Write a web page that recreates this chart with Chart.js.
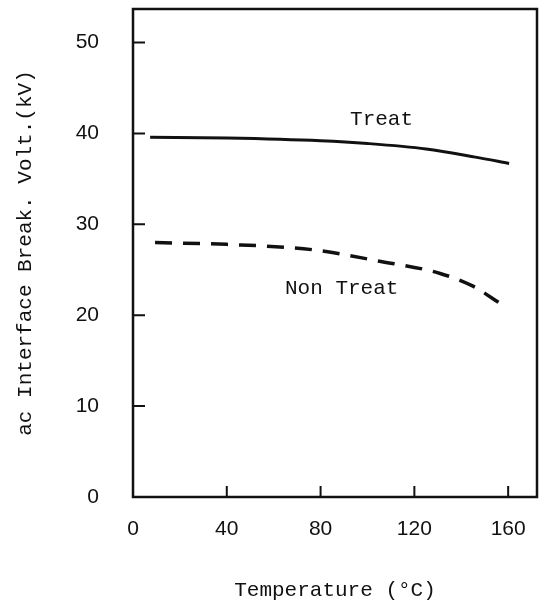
<!DOCTYPE html>
<html>
<head>
<meta charset="utf-8">
<script src="https://cdn.jsdelivr.net/npm/chart.js@4.4.1/dist/chart.umd.min.js"></script>
<style>
  html, body { margin: 0; padding: 0; background: #fff; }
  canvas { display: block; }
</style>
</head>
<body>
<canvas id="chart" width="546" height="604"></canvas>
<script>
// temperature (°C) / breakdown voltage (kV)
const treatTemp = [7.3, 40, 80, 100, 125, 146, 160.4];
const treatVolt = [39.6, 39.5, 39.2, 38.9, 38.3, 37.4, 36.7];
const nonTreatTemp = [9.4, 40, 77, 104, 131, 145, 156.6];
const nonTreatVolt = [28.0, 27.8, 27.2, 26.0, 24.6, 23.2, 21.3];

const xTicks = [0, 40, 80, 120, 160];
const yTicks = [0, 10, 20, 30, 40, 50];

const ink = '#111';
const monoFont = '"Liberation Mono", "DejaVu Sans Mono", monospace';
const sansFont = '"Liberation Sans", "DejaVu Sans", sans-serif';

// box around the plot + inward tick marks + curve labels
const framePlugin = {
  id: 'frame',
  afterDraw(chart) {
    const { ctx, chartArea: a, scales } = chart;
    ctx.save();
    ctx.strokeStyle = ink;
    ctx.lineWidth = 2.5;
    ctx.strokeRect(a.left, a.top, a.right - a.left, a.bottom - a.top);

    ctx.lineWidth = 2;
    ctx.beginPath();
    yTicks.filter(v => v > 0).forEach(v => {
      const y = scales.y.getPixelForValue(v);
      ctx.moveTo(a.left, y);
      ctx.lineTo(a.left + 12, y);
    });
    xTicks.filter(v => v > 0).forEach(v => {
      const x = scales.x.getPixelForValue(v);
      ctx.moveTo(x, a.bottom);
      ctx.lineTo(x, a.bottom - 11);
    });
    ctx.stroke();

    ctx.fillStyle = ink;
    ctx.font = '21px ' + monoFont;
    ctx.textAlign = 'center';
    ctx.textBaseline = 'middle';
    ctx.fillText('Treat', scales.x.getPixelForValue(106), scales.y.getPixelForValue(41.5));
    ctx.fillText('Non Treat', scales.x.getPixelForValue(89), scales.y.getPixelForValue(23.0));
    ctx.restore();
  }
};

// tick padding would otherwise push the plot area in
const noScalePadding = s => {
  s.paddingTop = 0;
  s.paddingBottom = 0;
  s.paddingLeft = 0;
  s.paddingRight = 0;
};

new Chart(document.getElementById('chart'), {
  type: 'line',
  data: {
    datasets: [
      {
        label: 'Treat',
        data: treatTemp.map((t, i) => ({ x: t, y: treatVolt[i] })),
        borderColor: ink,
        borderWidth: 3,
        cubicInterpolationMode: 'monotone',
        pointRadius: 0,
        fill: false,
      },
      {
        label: 'Non Treat',
        data: nonTreatTemp.map((t, i) => ({ x: t, y: nonTreatVolt[i] })),
        borderColor: ink,
        borderWidth: 3.5,
        borderDash: [17, 11],
        cubicInterpolationMode: 'monotone',
        pointRadius: 0,
        fill: false,
      },
    ],
  },
  options: {
    responsive: false,
    animation: false,
    events: [],
    layout: { padding: { left: 0, top: 9, right: 9, bottom: 0 } },
    plugins: { legend: { display: false }, tooltip: { enabled: false } },
    scales: {
      x: {
        type: 'linear',
        min: 0,
        max: 172.3,
        afterBuildTicks: s => { s.ticks = xTicks.map(v => ({ value: v })); },
        afterFit: s => { s.height = 107; noScalePadding(s); },
        grid: { display: false, drawTicks: false },
        border: { display: false },
        ticks: {
          color: ink,
          padding: 20,
          maxRotation: 0,
          font: { family: sansFont, size: 21 },
        },
        title: {
          display: true,
          text: 'Temperature (°C)',
          color: ink,
          font: { family: monoFont, size: 21 },
          padding: { top: 0, bottom: 1 },
        },
      },
      y: {
        min: 0,
        max: 53.7,
        afterBuildTicks: s => { s.ticks = yTicks.map(v => ({ value: v })); },
        afterFit: s => { s.width = 133; noScalePadding(s); },
        grid: { display: false, drawTicks: false },
        border: { display: false },
        ticks: {
          color: ink,
          padding: 34,
          font: { family: sansFont, size: 21 },
        },
        title: {
          display: true,
          text: 'ac Interface Break. Volt.(kV)',
          color: ink,
          font: { family: monoFont, size: 21 },
          padding: { top: 13, bottom: 0 },
        },
      },
    },
  },
  plugins: [framePlugin],
});
</script>
</body>
</html>
